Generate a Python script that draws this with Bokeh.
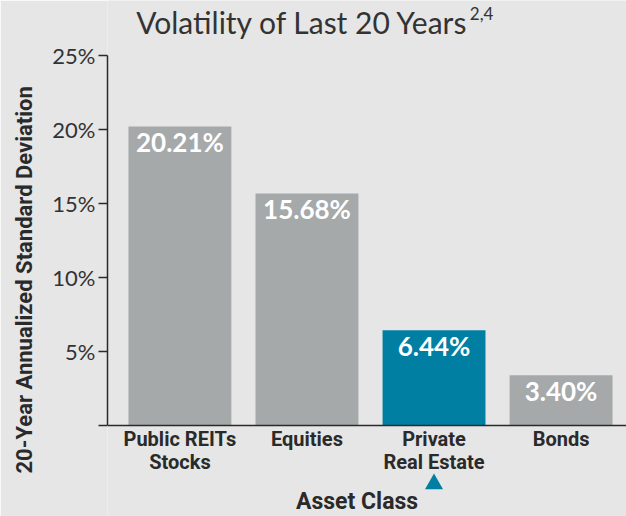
from bokeh.plotting import figure
from bokeh.models import Range1d, FixedTicker, PrintfTickFormatter, Label, LinearAxis, Title
from bokeh.core.properties import value
from bokeh.embed import file_html
from bokeh.resources import INLINE

categories = ["Public REITs\nStocks", "Equities", "Private\nReal Estate", "Bonds"]
volatility = [20.21, 15.68, 6.44, 3.40]
value_labels = ["20.21%", "15.68%", "6.44%", "3.40%"]
highlight = [False, False, True, False]
y_ticks = [0, 5, 10, 15, 20, 25]

BG = "#e6e6e6"
GRAY = "#a6a9aa"
BLUE = "#007fa3"
DARK = "#2a2a2a"
COND = "Roboto"

xs = list(range(len(categories)))
colors = [BLUE if h else GRAY for h in highlight]
hx = [x for x, h in zip(xs, highlight) if h]

p = figure(width=626, height=516, output_backend="svg", toolbar_location=None,
           x_range=Range1d(-0.57, 3.515), y_range=Range1d(-6.149, 28.716),
           x_axis_type=None, y_axis_type=None,
           min_border_left=106, min_border_right=0, min_border_top=0, min_border_bottom=0)
p.background_fill_color = BG
p.border_fill_color = BG
p.outline_line_color = None
p.xgrid.visible = False
p.ygrid.visible = False

# y axis
yax = LinearAxis(ticker=FixedTicker(ticks=y_ticks), formatter=PrintfTickFormatter(format="%d%%"),
                 bounds=(0, 25))
yax.major_label_overrides = {0: ""}
yax.major_tick_in = 0
yax.major_tick_out = 9
yax.minor_tick_line_color = None
yax.axis_line_color = DARK
yax.axis_line_width = 1.5
yax.major_tick_line_color = DARK
yax.major_tick_line_width = 1.5
yax.major_label_text_font = "Lato"
yax.major_label_text_font_size = "22px"
yax.major_label_text_color = "#333333"
yax.major_label_standoff = 3
p.add_layout(yax, "left")

# x axis at zero
xax = LinearAxis(ticker=FixedTicker(ticks=xs), fixed_location=0)
xax.major_label_overrides = {i: c for i, c in zip(xs, categories)}
xax.major_tick_line_color = None
xax.minor_tick_line_color = None
xax.axis_line_color = DARK
xax.axis_line_width = 1.5
xax.major_label_text_font = COND
xax.major_label_text_font_style = "bold"
xax.major_label_text_font_size = "20px"
xax.major_label_text_line_height = 0.95
xax.major_label_text_color = DARK
xax.major_label_standoff = -4
p.add_layout(xax, "below")

p.vbar(x=xs, top=volatility, width=0.81, color=colors, line_color=None)
p.text(x=xs, y=volatility, text=value_labels, text_align="center", text_baseline="alphabetic",
       y_offset=16, text_color="white", text_font=value("Lato"), text_font_style="bold",
       text_font_size="26px")

# highlight marker under the highlighted category
p.scatter(x=hx, y=[-3.95] * len(hx), marker="triangle", size=18, color=BLUE, line_color=None)

# title
p.add_layout(Label(x=2.274, y=27.23, text="Volatility of Last 20 Years", text_align="right",
                   text_baseline="alphabetic", text_font="Lato", text_font_size="30px",
                   text_color="#333333"))
p.add_layout(Label(x=2.274, y=27.85, x_offset=1, text="2,4", text_align="left",
                   text_baseline="alphabetic", text_font="Lato", text_font_size="17px",
                   text_color="#333333"))

# x axis title
p.add_layout(Label(x=1.394, y=-5.12, text="Asset Class", text_align="center",
                   text_baseline="alphabetic", text_font=COND, text_font_style="bold",
                   text_font_size="23px", text_color=DARK))

# y axis title
p.add_layout(Title(text="20-Year Annualized Standard Deviation", align="left", offset=43,
                   vertical_align="top", text_font=COND, text_font_style="bold",
                   text_font_size="22px", text_color=DARK, standoff=22), "left")

open("out.html", "w").write(file_html(p, INLINE))
